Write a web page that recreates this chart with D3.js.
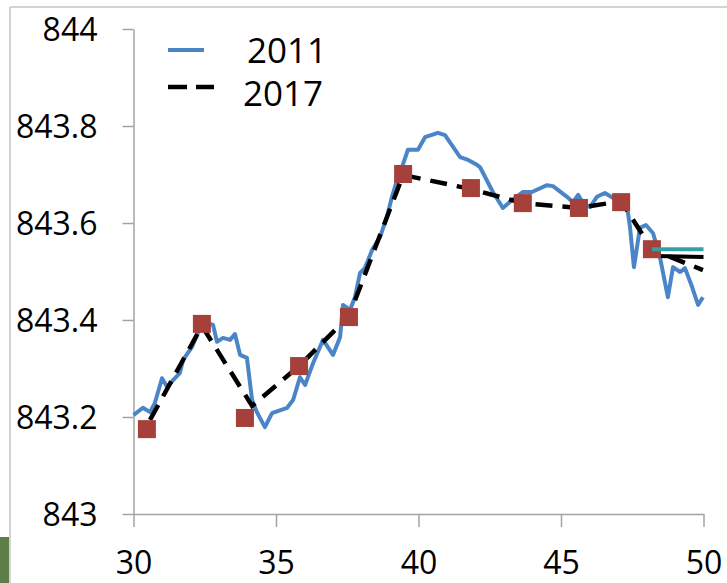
<!DOCTYPE html>
<html><head><meta charset="utf-8">
<script src="https://cdn.jsdelivr.net/npm/d3@7"></script>
<style>
body{margin:0;background:#fff;}
svg{display:block;}
text{font-family:"Open Sans",sans-serif;fill:#000;}
</style>
</head><body>
<svg id="c" width="727" height="583"></svg>
<script>
// ---- data ----
const xTicks = [30, 35, 40, 45, 50];
const yTicks = [843, 843.2, 843.4, 843.6, 843.8, 844];
const legendLabels = ["2011", "2017"];

// 2011 profile (blue solid)
const x2011 = [30.0,30.33,30.58,30.75,31.0,31.18,31.39,31.63,31.74,32.05,32.23,32.4,32.58,32.79,32.93,33.14,33.39,33.56,33.74,33.98,34.16,34.33,34.61,34.86,35.39,35.6,35.84,36.02,36.3,36.65,37.0,37.25,37.35,37.6,37.77,37.95,38.12,38.37,38.65,38.89,39.07,39.25,39.42,39.63,39.98,40.23,40.68,40.93,41.46,41.74,42.05,42.16,42.61,42.96,43.28,43.67,43.98,44.51,44.72,45.21,45.42,45.6,45.77,46.02,46.26,46.54,46.82,47.32,47.42,47.56,47.77,47.98,48.23,48.47,48.75,48.93,49.18,49.35,49.6,49.81,49.98];
const y2011 = [843.204,843.219,843.21,843.229,843.28,843.262,843.276,843.291,843.318,843.344,843.369,843.394,843.394,843.39,843.355,843.363,843.359,843.371,843.328,843.322,843.235,843.21,843.179,843.208,843.219,843.235,843.282,843.266,843.311,843.359,843.328,843.365,843.431,843.421,843.447,843.497,843.507,843.544,843.571,843.612,843.654,843.689,843.715,843.751,843.751,843.777,843.786,843.781,843.736,843.73,843.72,843.715,843.664,843.631,843.647,843.664,843.664,843.678,843.676,843.654,843.643,843.658,843.641,843.633,843.654,843.662,843.652,843.633,843.592,843.509,843.59,843.596,843.579,843.53,843.447,843.509,843.499,843.507,843.468,843.431,843.447];

// 2017 profile (black dashed)
const x2017 = [30.58,32.40,34.16,35.81,37.56,39.46,41.84,43.66,45.63,47.11,48.19,49.0,49.98];
const y2017 = [843.194,843.388,843.223,843.305,843.408,843.699,843.670,843.641,843.631,843.645,843.546,843.526,843.503];

// surveyed points (red squares)
const xPts = [30.47,32.40,33.91,35.81,37.56,39.46,41.84,43.66,45.63,47.11,48.19];
const yPts = [843.175,843.392,843.198,843.305,843.406,843.701,843.672,843.641,843.631,843.643,843.546];

// horizontal end levels
const xLevel = [48.19, 50.0];
const yTeal = [843.546, 843.546];
const xBlack = [48.35, 50.0];
const yBlack = [843.532, 843.530];

// ---- drawing ----
const svg = d3.select("#c");
const x = d3.scaleLinear().domain([30, 50]).range([133.5, 703.5]);
const y = d3.scaleLinear().domain([843, 844]).range([514, 29]);

// frame artefacts
svg.append("line").attr("x1",10).attr("x2",10).attr("y1",7).attr("y2",583)
  .attr("stroke","#c4c4c4").attr("stroke-width",1.5);
svg.append("line").attr("x1",10).attr("x2",727).attr("y1",7).attr("y2",7)
  .attr("stroke","#c4c4c4").attr("stroke-width",1.5);
svg.append("rect").attr("x",0).attr("y",537).attr("width",9).attr("height",46).attr("fill","#5d7e46");

const axisColor = "#a3a3a3";
const gy = svg.append("g").attr("transform",`translate(${x(30)},0)`)
  .call(d3.axisLeft(y).tickValues(yTicks).tickSize(11).tickSizeOuter(0).tickPadding(25)
    .tickFormat(d => String(+d.toFixed(1))));
const gx = svg.append("g").attr("transform",`translate(0,${y(843)})`)
  .call(d3.axisBottom(x).tickValues(xTicks).tickSize(13).tickSizeOuter(0).tickPadding(24));
[gx, gy].forEach(g => {
  g.select(".domain").attr("stroke",axisColor).attr("stroke-width",1.5);
  g.selectAll(".tick line").attr("stroke",axisColor).attr("stroke-width",1.5);
  g.selectAll(".tick text").attr("font-size",32).attr("font-family","'Open Sans',sans-serif").attr("fill","#000");
});
gy.selectAll(".tick text").attr("dy","0.36em");

const line = d3.line().x(d => x(d[0])).y(d => y(d[1]));

svg.append("path").datum(d3.zip(x2011, y2011)).attr("d", line)
  .attr("fill","none").attr("stroke","#4a85c8").attr("stroke-width",4).attr("stroke-linejoin","round");

svg.append("path").datum(d3.zip(x2017, y2017)).attr("d", line)
  .attr("fill","none").attr("stroke","#000").attr("stroke-width",4.5).attr("stroke-dasharray","17,10");

svg.append("path").datum(d3.zip(xBlack, yBlack)).attr("d", line)
  .attr("fill","none").attr("stroke","#000").attr("stroke-width",4);

const sz = 18;
svg.append("g").selectAll("rect").data(d3.zip(xPts, yPts)).join("rect")
  .attr("x", d => x(d[0]) - sz/2).attr("y", d => y(d[1]) - sz/2)
  .attr("width", sz).attr("height", sz).attr("fill","#a5403a");

svg.append("path").datum(d3.zip(xLevel, yTeal)).attr("d", line)
  .attr("fill","none").attr("stroke","#33a0a8").attr("stroke-width",4);

// legend
svg.append("line").attr("x1",168).attr("x2",204).attr("y1",50).attr("y2",50)
  .attr("stroke","#4a85c8").attr("stroke-width",4);
svg.append("line").attr("x1",168).attr("x2",214).attr("y1",87).attr("y2",87)
  .attr("stroke","#000").attr("stroke-width",4.5).attr("stroke-dasharray","19,9");
svg.append("text").attr("x",247).attr("y",63).attr("font-size",35).text(legendLabels[0]);
svg.append("text").attr("x",243).attr("y",106).attr("font-size",35).text(legendLabels[1]);
</script>
</body></html>
